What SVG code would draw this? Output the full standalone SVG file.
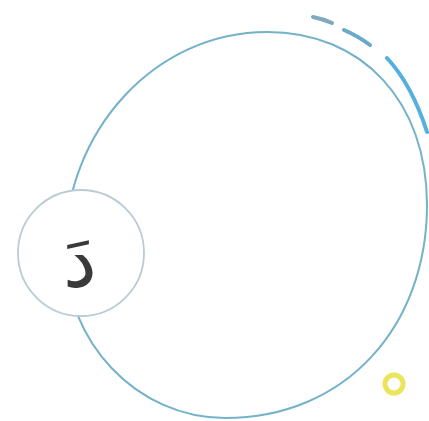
<svg xmlns="http://www.w3.org/2000/svg" width="429" height="421" viewBox="0 0 429 421">
  <style>
    .big { fill: #ffffff; stroke: #74b2c9; stroke-width: 2; }
    .small { fill: #ffffff; stroke: #b9ccd4; stroke-width: 1.8; }
    .letter { font-family: "DejaVu Sans", "Noto Sans", sans-serif; font-size: 76px; fill: #3a3a3a; }
    .arc { fill: none; stroke-linecap: round; stroke-width: 4; }
  </style>
  <rect width="429" height="421" fill="#ffffff"/>
  <g id="outer">
    <path class="big" d="M267,32 C363,32 427,102 427,205 C427,326 346,418 225,418 C137,418 65,342 65,250 C65,130 156,32 267,32 Z"/>
  </g>
  <g id="connectors">
    <path class="arc" stroke="#7ea9bf" d="M313,17 Q323,19 332,23"/>
    <path class="arc" stroke="#6aa9cb" d="M344,30 Q358,36 370,45"/>
    <path class="arc" stroke="#55b0de" d="M387,58 Q412,85 427,132"/>
  </g>
  <g id="letter-node">
    <circle class="small" cx="81" cy="253" r="63"/>
    <text class="letter" x="80" y="287" text-anchor="middle">دَ</text>
  </g>
  <g id="dot">
    <circle cx="394" cy="384" r="9" fill="none" stroke="#ece45a" stroke-width="5"/>
  </g>
</svg>
